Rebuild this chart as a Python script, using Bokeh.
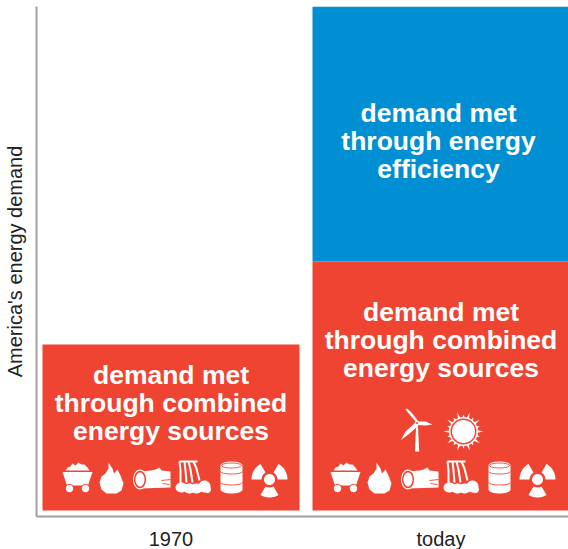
import numpy as np
from bokeh.core.properties import value
from bokeh.embed import file_html
from bokeh.models import FixedTicker, Range1d
from bokeh.plotting import figure
from bokeh.resources import INLINE

categories = ["1970", "today"]
combined = [166, 249]
efficiency = [0, 255]
combined_label = ["demand met", "through combined", "energy sources"]
efficiency_label = ["demand met", "through energy", "efficiency"]
y_axis_label = "America's energy demand"

RED = "#f04433"
BLUE = "#008fd2"
WHITE = "#ffffff"
GRAY = "#a0a0a0"
FONT = "Liberation Sans"
UNIT = 270.0  # pixels per category slot
FRAME_W, FRAME_H = 532, 510
centers = [i + 0.5 for i in range(len(categories))]

x_start = 0.5 - 134.5 / UNIT
p = figure(frame_width=FRAME_W, frame_height=FRAME_H, output_backend="svg", toolbar_location=None,
           x_range=Range1d(x_start, x_start + FRAME_W / UNIT),
           y_range=Range1d(-6, FRAME_H - 6),
           min_border_left=36, min_border_right=0, min_border_top=6, min_border_bottom=32,
           outline_line_color=None, background_fill_color=None, border_fill_color=None)
p.grid.visible = False

bar_w = 257 / UNIT
p.vbar(x=centers, top=combined, bottom=0, width=bar_w, fill_color=RED, line_color=None)
p.vbar(x=centers, top=[c + e for c, e in zip(combined, efficiency)], bottom=combined,
       width=bar_w, fill_color=BLUE, line_color=None)

# axes
xa = p.xaxis[0]
xa.ticker = FixedTicker(ticks=centers)
xa.major_label_overrides = {c: t for c, t in zip(centers, categories)}
xa.axis_line_color = GRAY
xa.axis_line_width = 2
xa.major_tick_line_color = None
xa.minor_tick_line_color = None
xa.major_label_text_font = FONT
xa.major_label_text_font_size = "20px"
xa.major_label_text_color = "#222222"
xa.major_label_standoff = 5
ya = p.yaxis[0]
ya.ticker = FixedTicker(ticks=[])
ya.axis_label = y_axis_label
ya.axis_label_text_font = FONT
ya.axis_label_text_font_style = "normal"
ya.axis_label_text_font_size = "20px"
ya.axis_label_text_color = "#222222"
ya.axis_label_standoff = 11
ya.major_tick_line_color = None
ya.minor_tick_line_color = None
ya.axis_line_color = GRAY
ya.axis_line_width = 2


def write(lines, cx, first_y):
    p.text(x=[cx] * len(lines), y=[first_y - 28 * i for i in range(len(lines))], text=lines,
           text_font=value(FONT), text_font_style="bold", text_font_size="26.5px",
           text_color=WHITE, text_align="center", text_baseline="middle")


write(combined_label, centers[0], combined[0] - 30)
write(combined_label, centers[1], combined[1] - 50)
write(efficiency_label, centers[1] - 2.5 / UNIT, combined[1] + efficiency[1] - 106)


# ---- pictograms, in local pixels (u to the right, v down) ----
def circ(cx, cy, rx, ry=None, a0=0, a1=360, n=28):
    ry = rx if ry is None else ry
    a = np.radians(np.linspace(a0, a1, n))
    return list(zip(cx + rx * np.cos(a), cy + ry * np.sin(a)))


def sector(cx, cy, r0, r1, mid, half):
    outer = circ(cx, cy, r1, a0=mid - half, a1=mid + half, n=12)
    inner = circ(cx, cy, r0, a0=mid + half, a1=mid - half, n=8)
    return outer + inner


def coal():
    base = [[(3, 8), (5, 5), (8, 4), (10, 1), (13, 3), (16, 0), (19, 2), (22, 2), (25, 5), (27, 8)],
            [(0, 9.5), (30, 9.5), (25.5, 23), (4.5, 23)]]
    cut = [circ(7, 26, 4.6), circ(23, 26, 4.6)]
    top = [circ(7, 26, 3.7), circ(23, 26, 3.7)]
    return base, cut, [], top, []


def flame():
    base = [[(9, 0), (13, 6), (14.5, 11), (18, 7), (21, 13), (24, 21), (22, 28), (17, 31), (7, 31),
             (2, 27), (0, 20), (2, 14), (6, 11), (9, 6)]]
    return base, [], [], [], []


def log():
    body = [(7, 4), (19, 3), (23, 2), (27, 0), (29, 3), (38, 4), (38, 20), (7, 21)]
    base = [body, circ(7.5, 12, 7, 10)]
    cut = [circ(7.5, 12, 6, 8.8)]
    top = [circ(7.5, 12, 4.5, 7), ]
    lines = [circ(7.5, 12, 3, 5), circ(7.5, 12, 1.4, 2.6), [(29, 13), (38, 12)], [(30, 16), (37, 17)]]
    return base, cut, lines, top, []


def waterfall():
    base = [circ(6, 27, 6, 5), circ(14, 28, 6, 5), circ(21, 28, 6, 5), circ(29, 26, 6, 6), circ(32, 29, 3.5, 3.5)]
    stripes = [[(4, 1), (22, 1)],
               [(4, 1), (5, 10), (5, 24)],
               [(9, 1), (10, 10), (11, 22)],
               [(13, 1), (15, 9), (17, 22)],
               [(18, 1), (21, 8), (24, 20)]]
    return base, [], [], [], stripes


def barrel():
    body = circ(11, 4, 11, 4, 180, 360) + [(22, 28)] + circ(11, 28, 11, 4, 0, 180) + [(0, 4)]
    lines = [circ(11, 4, 10, 2.5),
             circ(11, 10, 11, 2.5, 0, 180, 14),
             circ(11, 21, 11, 2.5, 0, 180, 14)]
    return [body], [], lines, [], []


def nuclear():
    base = [sector(18, 17, 8, 18, m, 30) for m in (-150, -30, 90)]
    base.append(circ(18, 17, 5.5))
    return base, [], [], [], []


def wind():
    h = (16.5, 14.5)
    base = [[(15.6, 16), (17.4, 16), (18.7, 43), (14.5, 43)],
            [(15, 13), (5, 1), (6.5, 0), (11, 4), (18, 13)],
            [(17, 13), (25, 13), (32, 16), (25, 17), (17, 16.5)],
            [(15, 14), (18, 17), (9, 25), (0.5, 31.5), (5, 23)]]
    base.append(circ(h[0], h[1], 2.2))
    cut = [circ(h[0], h[1], 1)]
    return base, cut, [], [], []


def sun():
    c = 20
    rays = []
    for i in range(20):
        a = i * 18.0
        long = 20 if i % 2 == 0 else 17
        a0, a1 = np.radians(a - 5), np.radians(a + 5)
        m = np.radians(a)
        rays.append([(c + 14 * np.cos(a0), c + 14 * np.sin(a0)),
                     (c + long * np.cos(m), c + long * np.sin(m)),
                     (c + 14 * np.cos(a1), c + 14 * np.sin(a1))])
    base = rays + [circ(c, c, 14.5)]
    cut = [circ(c, c, 13)]
    top = [circ(c, c, 11.5)]
    return base, cut, [], top, []


def place(icon, page_x, page_top):
    """Turn local pixels of a pictogram into data coordinates."""
    left = x_start + (page_x - 36) / UNIT
    y0 = 511 - page_top

    def t(poly):
        a = np.array(poly, dtype=float)
        return list(left + a[:, 0] / UNIT), list(y0 - a[:, 1])

    return [[t(q) for q in part] for part in icon()]


row = [(coal, 62, 463), (flame, 99, 463), (log, 132, 468), (waterfall, 175, 461), (barrel, 220, 462), (nuclear, 251, 463)]
SHIFT = 268
items = [(f, x, y) for f, x, y in row] + [(f, x + SHIFT, y) for f, x, y in row]
items += [(wind, 400, 409), (sun, 443, 412)]
parts = [[], [], [], [], []]
for f, x, y in items:
    for i, part in enumerate(place(f, x, y)):
        parts[i].extend(part)


def fill(polys, color):
    if polys:
        p.patches(xs=[q[0] for q in polys], ys=[q[1] for q in polys], fill_color=color, line_color=None)


fill(parts[0], WHITE)
fill(parts[1], RED)
p.multi_line(xs=[q[0] for q in parts[2]], ys=[q[1] for q in parts[2]], line_color=RED, line_width=0.9)
fill(parts[3], WHITE)
p.multi_line(xs=[q[0] for q in parts[4]], ys=[q[1] for q in parts[4]], line_color=WHITE, line_width=2)

open("out.html", "w").write(file_html(p, INLINE))
